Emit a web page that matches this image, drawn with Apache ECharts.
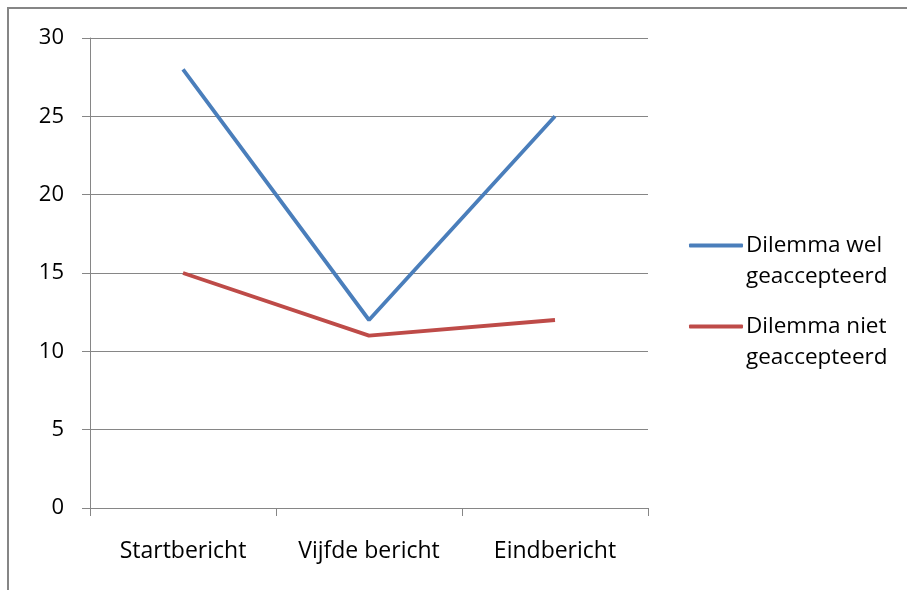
<!DOCTYPE html>
<html><head><meta charset="utf-8">
<script src="https://cdn.jsdelivr.net/npm/echarts@6/dist/echarts.min.js"></script>
<style>html,body{margin:0;padding:0;background:#fff}#c{width:907px;height:590px}</style>
</head><body><div id="c"></div>
<script>
const categories = ['Startbericht', 'Vijfde bericht', 'Eindbericht'];
const welValues = [28, 12, 25];
const nietValues = [15, 11, 12];
const seriesNames = ['Dilemma wel\ngeaccepteerd', 'Dilemma niet\ngeaccepteerd'];
const font = 'Open Sans';
const chart = echarts.init(document.getElementById('c'));
chart.setOption({
  animation: false,
  graphic: [{type:'rect', shape:{x:8, y:8, width:920, height:600}, style:{fill:'none', stroke:'#868686', lineWidth:2}}],
  grid: {left: 90, right: 259, top: 38, bottom: 82},
  legend: {
    orient: 'vertical', left: 689, top: 199, padding: 0, itemWidth: 54, itemHeight: 4, itemGap: -12,
    icon: 'roundRect',
    formatter: name => '\n' + name,
    textStyle: {fontFamily: font, fontSize: 22.5, color: '#000', lineHeight: 31, padding:[0,0,0,-2]},
    data: seriesNames
  },
  xAxis: {
    type: 'category', data: categories, boundaryGap: true,
    axisLine: {lineStyle: {color: '#868686', width: 1}},
    axisTick: {show: true, length: 8, lineStyle: {color: '#868686'}},
    axisLabel: {fontFamily: font, fontSize: 23, color: '#000', margin: 32}
  },
  yAxis: {
    type: 'value', min: 0, max: 30, interval: 5,
    axisLine: {show: true, lineStyle: {color: '#868686'}},
    axisTick: {show: true, length: 8, lineStyle: {color: '#868686'}},
    splitLine: {lineStyle: {color: '#868686', width: 1}},
    axisLabel: {fontFamily: font, fontSize: 22, color: '#000', margin: 26}
  },
  series: [
    {name: seriesNames[0], type: 'line', data: welValues, symbol: 'none', lineStyle: {color: '#4A7EBB', width: 3.8}, itemStyle: {color: '#4A7EBB'}},
    {name: seriesNames[1], type: 'line', data: nietValues, symbol: 'none', lineStyle: {color: '#BE4B48', width: 3.8}, itemStyle: {color: '#BE4B48'}}
  ]
});
</script></body></html>
